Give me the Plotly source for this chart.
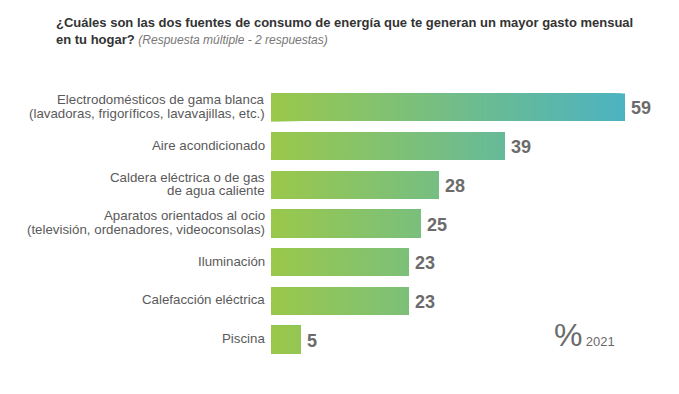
import plotly.graph_objects as go

categories = [
    "Electrodomésticos de gama blanca\n(lavadoras, frigoríficos, lavavajillas, etc.)",
    "Aire acondicionado",
    "Caldera eléctrica o de gas\nde agua caliente",
    "Aparatos orientados al ocio\n(televisión, ordenadores, videoconsolas)",
    "Iluminación",
    "Calefacción eléctrica",
    "Piscina",
]
values = [59, 39, 28, 25, 23, 23, 5]
year_label = "2021"

c0 = (155, 200, 74)
c1 = (76, 179, 193)
gmax = 59.0

def col(t):
    f = min(max(t / gmax, 0), 1)
    return "rgb(%d,%d,%d)" % tuple(round(a + (b - a) * f) for a, b in zip(c0, c1))

ids = list(range(len(categories)))
fig = go.Figure()
steps = [i * 0.5 for i in range(int(max(values) * 2), 0, -1)]
for t in steps:
    fig.add_trace(go.Bar(
        y=ids, x=[min(v, t) for v in values], orientation="h",
        marker=dict(color=col(t), line=dict(width=0)),
        hoverinfo="skip", showlegend=False,
    ))

# value labels
for i, v in enumerate(values):
    fig.add_annotation(x=v, y=i, xref="x", yref="y", text="<b>%d</b>" % v,
                       showarrow=False, xanchor="left", xshift=4, yshift=-1,
                       font=dict(family="Liberation Sans", size=18, color="#6b6b6b"))

# category labels
for i, lab in enumerate(categories):
    lines = lab.split("\n")
    n = len(lines)
    for k, ln in enumerate(lines):
        fig.add_annotation(x=0, y=i, xref="x", yref="y", text=ln, showarrow=False,
                           xanchor="right", xshift=-4,
                           yshift=((n - 1) / 2 - k) * 13.4 + 1,
                           font=dict(family="Liberation Sans", size=13.3, color="#5a5a5a"))

fig.add_annotation(x=1, y=0, xref="paper", yref="paper", xanchor="right", yanchor="bottom",
                   text="<span style='font-size:32px'>%</span> <span style='font-size:13px'>" + year_label + "</span>",
                   showarrow=False, xshift=-50, yshift=4,
                   font=dict(family="Liberation Sans", color="#6b6b6b"))

fig.update_layout(
    width=679, height=394,
    barmode="overlay", bargap=0.29,
    plot_bgcolor="white", paper_bgcolor="white",
    margin=dict(l=263, r=20, t=80, b=43),
    title=dict(
        text="<b>¿Cuáles son las dos fuentes de consumo de energía que te generan un mayor gasto mensual<br>en tu hogar?</b> <i><span style='color:#777;font-size:12px'>(Respuesta múltiple - 2 respuestas)</span></i>",
        x=48 / 679, xref="container", xanchor="left",
        y=1 - 19 / 394, yref="container", yanchor="top",
        font=dict(family="Liberation Sans", size=13.0, color="#333333"),
    ),
    xaxis=dict(range=[0, 66], visible=False, fixedrange=True),
    yaxis=dict(range=[6.5, -0.5], visible=False, fixedrange=True),
)

fig.write_html("out.html")
